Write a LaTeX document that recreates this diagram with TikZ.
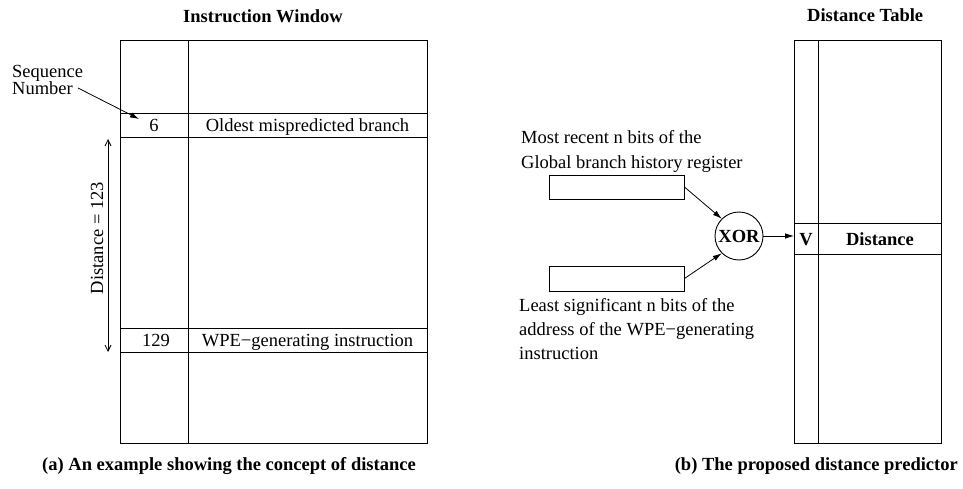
\documentclass[tikz,border=0pt]{standalone}
\usepackage{fontspec}
\setmainfont{Liberation Serif}
\usetikzlibrary{arrows.meta}
\begin{document}
\begin{tikzpicture}[x=1pt,y=-1pt,
  every node/.style={inner sep=0pt,font=\fontsize{18.5}{22}\selectfont},
  frame/.style={draw,line width=0.9pt},
  rule/.style={line width=0.9pt},
  txt/.style={anchor=base west},
  ctr/.style={anchor=base},
  bold/.style={font=\fontsize{18.5}{22}\selectfont\bfseries},
  filledarrow/.style={line width=0.8pt,-{Latex[length=9pt,width=5.5pt]}},
  openarrows/.style={line width=0.8pt,{Straight Barb[length=6pt,width=6pt]}-{Straight Barb[length=6pt,width=6pt]}}
]
\useasboundingbox (0,0) rectangle (963,489);

% ---------- (a) Instruction window ----------
\node[txt,bold] (titleA) at (183,23) {Instruction Window};
\coordinate (iwNW) at (120,40);
\coordinate (iwSE) at (427,443);
\draw[frame] (iwNW) rectangle (iwSE);
\draw[rule] (188,40) -- (188,443);
\draw[rule] (120,113) -- (427,113);
\draw[rule] (120,137) -- (427,137);
\draw[rule] (120,328) -- (427,328);
\draw[rule] (120,352) -- (427,352);

\node[ctr] (seq6) at (154,131.5) {6};
\node[ctr] (oldest) at (307.5,131.5) {Oldest mispredicted branch};
\node[ctr] (seq129) at (156,346.5) {129};
\node[ctr] (wpe) at (307.5,346.5) {WPE\char"2212 generating instruction};

\node[txt] (seqA) at (12,78) {Sequence};
\node[txt] (seqB) at (12,95) {Number};
\coordinate (seqStart) at (78,88);
\coordinate (seqTip) at (139,119);
\draw[filledarrow] (seqStart) -- (seqTip);

\coordinate (dTop) at (108,139);
\coordinate (dBot) at (108,352);
\draw[openarrows] (dTop) -- (dBot);
\node[rotate=90] (dist) at (97,238) {Distance = 123};

\node[txt,bold] (capA) at (42,470) {(a) An example showing the concept of distance};

% ---------- (b) Distance predictor ----------
\node[txt,bold] (titleB) at (807,22) {Distance Table};
\coordinate (dtNW) at (794,40);
\coordinate (dtSE) at (941,443);
\draw[frame] (dtNW) rectangle (dtSE);
\draw[rule] (818,40) -- (818,443);
\draw[rule] (794,223) -- (941,223);
\draw[rule] (794,254) -- (941,254);
\node[ctr,bold] (vcell) at (806,245) {V};
\node[ctr,bold] (distcell) at (880,245) {Distance};
\coordinate (tableIn) at (794,236);

\node[txt] (mostA) at (521,144) {Most recent n bits of the};
\node[txt] (mostB) at (521,169) {Global branch history register};
\node[draw,line width=0.9pt,minimum width=135pt,minimum height=24pt] (ghr) at (616.5,187) {};

\node[draw,line width=0.9pt,minimum width=135pt,minimum height=25pt] (addr) at (616.5,278.5) {};
\node[txt] (leastA) at (519,311) {Least significant n bits of the};
\node[txt] (leastB) at (519,335) {address of the WPE\char"2212 generating};
\node[txt] (leastC) at (519,359) {instruction};

\node[draw,circle,line width=0.9pt,minimum size=48pt,bold] (xor) at (739,236) {XOR};

\draw[filledarrow] (ghr.east) -- (xor.north west);
\draw[filledarrow] (addr.east) -- (xor.south west);
\draw[filledarrow] (xor.east) -- (tableIn);

\node[anchor=base east,bold] (capB) at (958,470) {(b) The proposed distance predictor};
\end{tikzpicture}
\end{document}
